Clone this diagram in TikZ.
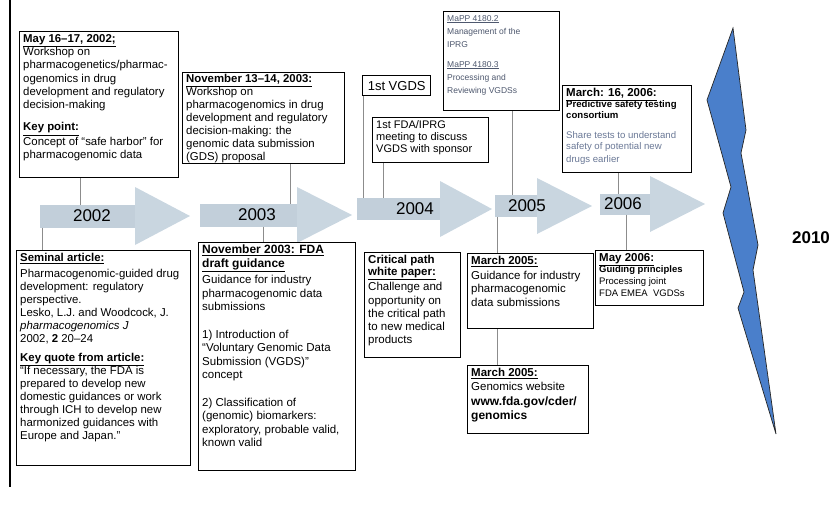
\documentclass[tikz,border=0pt]{standalone}
\usepackage{fontspec}
\setmainfont{Liberation Sans}
\definecolor{arrowc}{HTML}{C9D6E0}
\definecolor{shaftc}{HTML}{C2CFDA}
\definecolor{boltc}{HTML}{4A7FCB}
\definecolor{fadetxt}{HTML}{6A7896}
\definecolor{mapptxt}{HTML}{4E586E}
\newcommand\fs[2]{\fontsize{#1}{#2}\selectfont}
\newcommand\yrarrow[6]{\fill[arrowc] (#2,#4-#6) -- (#3,#4) -- (#2,#4+#6) -- cycle;
  \fill[shaftc] (#1,#4-#5) rectangle (#2,#4+#5);}
\tikzset{
  box/.style={draw=black, line width=1.4pt, fill=white, inner xsep=3.5pt, inner ysep=2.5pt, anchor=north west},
  conn/.style={draw=black!45, line width=0.6pt},
  yr/.style={inner sep=0pt, font=\fs{17}{17}},
}
\begin{document}
\begin{tikzpicture}[x=1pt,y=-1pt]
\useasboundingbox (0,0) rectangle (831,515);
% left frame line
\coordinate (fl1) at (10,0);
\coordinate (fl2) at (10,487);
\draw[line width=1.2pt] (fl1) -- (fl2);

% timeline arrows
\yrarrow{40}{135}{190}{216}{11.5}{29}
\yrarrow{200}{297}{352}{215}{11.5}{28}
\yrarrow{357}{440}{492}{209}{11}{28}
\yrarrow{495}{537}{592}{206}{11}{28}
\yrarrow{600}{650}{705}{204}{10.5}{28}
\node[yr] (y2002) at (92,216) {2002};
\node[yr] (y2003) at (257,215) {2003};
\node[yr] (y2004) at (415,209) {2004};
\node[yr] (y2005) at (527,206) {2005};
\node[yr] (y2006) at (623,204) {2006};

% lightning bolt
\filldraw[fill=boltc, draw=black!85, line width=0.7pt, line join=miter]
  (733,28) -- (746,130) -- (741,153) -- (758,245) -- (753,270) -- (776,434)
  -- (738,308) -- (744,292) -- (723,213) -- (731,187) -- (712,118) -- (707,100) -- cycle;
\node[inner sep=0pt, font=\bfseries\fs{17}{17}] (y2010) at (811,238) {2010};

% ---------- boxes above ----------
\node[box] (boxA) at (19,31) {\parbox[t][141pt][t]{152pt}{\raggedright\fs{11.4}{13.3}%
\underline{\textbf{May 16--17, 2002;}}\\
Workshop on\\
pharmacogenetics/pharmac-\\
ogenomics in drug\\
development and regulatory\\
decision-making\\[9pt]
\underline{\textbf{Key point:}}\\[1pt]
Concept of “safe harbor” for\\
pharmacogenomic data}};

\node[box, inner ysep=2pt] (boxB) at (182,72) {\parbox[t][87pt][t]{155pt}{\raggedright\fs{11.4}{12.9}%
\underline{\textbf{November 13--14, 2003:}}\\
Workshop on\\
pharmacogenomics in drug\\
development and regulatory\\
decision-making: the\\
genomic data submission\\
(GDS) proposal}};

\node[box, minimum width=68pt, minimum height=20pt, inner sep=0pt, font=\fs{13}{13}] (vgds) at (362,75) {1st VGDS};

\node[box] (fda) at (372,117) {\parbox[t][40pt][t]{109pt}{\raggedright\fs{11}{12}%
1st FDA/IPRG\\
meeting to discuss\\
VGDS with sponsor}};

\node[box] (mapp) at (443,11) {\parbox[t][94pt][t]{109pt}{\raggedright\fs{8.5}{13}\color{mapptxt}%
\vspace*{1pt}\underline{MaPP 4180.2}\\
Management of the\\
IPRG\\[7pt]
\underline{MaPP 4180.3}\\
Processing and\\
Reviewing VGDSs}};

\node[box] (mar16) at (562,85) {\parbox[t][82pt][t]{122pt}{\raggedright\fs{11.5}{13}%
\underline{\textbf{March: 16, 2006:}}\\[-1pt]
{\fs{9.6}{11.5}\textbf{Predictive safety testing}\\
\textbf{consortium}\\[8pt]
\color{fadetxt}Share tests to understand\\
safety of potential new\\
drugs earlier}}};

% ---------- boxes below ----------
\node[box] (semin) at (16,250) {\parbox[t][210pt][t]{167pt}{\raggedright\fs{11.4}{13}%
\underline{\textbf{Seminal article:}}\\[3pt]
Pharmacogenomic-guided drug\\
development: regulatory\\
perspective.\\
Lesko, L.J. and Woodcock, J.\\
\textit{pharmacogenomics J}\\
2002, \textbf{2} 20--24\\[6pt]
\underline{\textbf{Key quote from article:}}\\
“If necessary, the FDA is\\
prepared to develop new\\
domestic guidances or work\\
through ICH to develop new\\
harmonized guidances with\\
Europe and Japan.”}};

\node[box] (nov03) at (198,242) {\parbox[t][223pt][t]{150pt}{\raggedright\fs{11.5}{13.5}%
{\fs{12}{11}\underline{\textbf{November 2003: FDA}}\\
\underline{\textbf{draft guidance}}}\\[3pt]
Guidance for industry\\
pharmacogenomic data\\
submissions\\[14pt]
1) Introduction of\\
“Voluntary Genomic Data\\
Submission (VGDS)”\\
concept\\[14pt]
2) Classification of\\
(genomic) biomarkers:\\
exploratory, probable valid,\\
known valid}};

\node[box] (crit) at (364,252) {\parbox[t][100pt][t]{89pt}{\raggedright\fs{11.5}{13.2}%
\textbf{Critical path}\\[-1pt]
\underline{\textbf{white paper:}}\\[2pt]
Challenge and\\
opportunity on\\
the critical path\\
to new medical\\
products}};

\node[box] (mar05) at (467,253) {\parbox[t][70pt][t]{119pt}{\raggedright\fs{11.5}{13.5}%
\underline{\textbf{March 2005:}}\\[1pt]
Guidance for industry\\
pharmacogenomic\\
data submissions}};

\node[box] (genom) at (467,365) {\parbox[t][63pt][t]{114pt}{\raggedright\fs{11.5}{14}%
\underline{\textbf{March 2005:}}\\
Genomics website\\[2pt]
{\fs{12}{13}\textbf{www.fda.gov/cder/}\\
\textbf{genomics}}}};

\node[box] (may06) at (595,250) {\parbox[t][50pt][t]{101pt}{\raggedright\fs{11.5}{12.5}%
\underline{\textbf{May 2006:}}\\
{\fs{9.5}{11.5}\textbf{Guiding principles}\\
Processing joint\\
FDA EMEA\ \ VGDSs}}};

% ---------- connectors ----------
\coordinate (tA) at (80,204.5);
\coordinate (tB) at (290,203.5);
\coordinate (tV) at (363,198);
\coordinate (tF) at (383,198);
\coordinate (tM) at (512,195);
\coordinate (tS) at (618,193.5);
\coordinate (bS) at (42,227.5);
\coordinate (bN) at (263,226.5);
\coordinate (bM) at (497,217);
\coordinate (bY) at (626,214.5);
\draw[conn] (tA |- boxA.south) -- (tA);
\draw[conn] (tB |- boxB.south) -- (tB);
\draw[conn] (tV |- vgds.south) -- (tV);
\draw[conn] (tF |- fda.south) -- (tF);
\draw[conn] (tM |- mapp.south) -- (tM);
\draw[conn] (tS |- mar16.south) -- (tS);
\draw[conn] (bS) -- (bS |- semin.north);
\draw[conn] (bN) -- (bN |- nov03.north);
\draw[conn] (bM) -- (bM |- mar05.north);
\draw[conn] (bM |- mar05.south) -- (bM |- genom.north);
\draw[conn] (bY) -- (bY |- may06.north);
\end{tikzpicture}
\end{document}
